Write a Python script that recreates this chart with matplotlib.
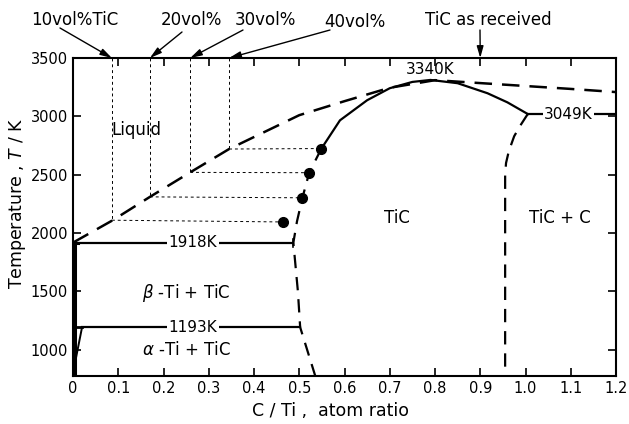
import matplotlib.pyplot as plt

# liquidus (dashed)
liq_x = [0.0, 0.088, 0.17, 0.259, 0.345, 0.5, 0.6, 0.7, 0.8, 0.9, 1.0, 1.1, 1.2]
liq_T = [1918, 2110, 2310, 2520, 2720, 3010, 3130, 3245, 3310, 3285, 3260, 3235, 3208]

# TiC solidus (solid)
sol_x = [0.549, 0.59, 0.65, 0.70, 0.75, 0.79, 0.85, 0.916, 0.96, 1.005]
sol_T = [2724, 2966, 3138, 3241, 3295, 3312, 3284, 3198, 3120, 3020]

# TiC phase boundaries (dashed)
left_x = [0.549, 0.522, 0.507, 0.495, 0.487, 0.497, 0.502, 0.535]
left_T = [2724, 2517, 2302, 2100, 1918, 1500, 1193, 780]
right_x = [1.005, 0.99, 0.975, 0.963, 0.957, 0.955, 0.955]
right_T = [3020, 2930, 2830, 2700, 2600, 2500, 780]

# measured points
dot_x = [0.465, 0.507, 0.522, 0.549]
dot_T = [2095, 2302, 2517, 2724]

# compositions of the samples
vol_x = [0.086, 0.17, 0.259, 0.345]
vol_T = [2110, 2310, 2520, 2720]
vol_labels = ['10vol%TiC', '20vol%', '30vol%', '40vol%']
vol_text_px = [(75, 20), (191, 20), (265, 20), (355, 22)]
vol_arrow_px = [(60, 28), (182, 32), (243, 30), (330, 30)]

plt.rcParams['font.family'] = ['DejaVu Sans']
fig = plt.figure(figsize=(6.29, 4.24), dpi=100)
ax = fig.add_axes([73/629, 1-376/424, (616-73)/629, (376-58)/424])

ax.plot(liq_x, liq_T, color='black', lw=1.8, dashes=(7, 4))
ax.plot(sol_x, sol_T, color='black', lw=1.6)
ax.plot(left_x, left_T, color='black', lw=1.6, dashes=(6, 4))
ax.plot(right_x, right_T, color='black', lw=1.6, dashes=(6, 4))
ax.plot(dot_x, dot_T, 'o', color='black', ms=7)

# sample lines
for vx, vt, dx, dt in zip(vol_x, vol_T, dot_x, dot_T):
    ax.plot([vx, vx], [3500, vt], color='black', lw=0.7, dashes=(3, 3))
    ax.plot([vx, dx], [vt, dt], color='black', lw=0.7, dashes=(3, 3))

# Ti side
ax.plot([0.004, 0.004], [780, 1918], color='black', lw=2.2)
ax.plot([0.004, 0.012], [1918, 1918], color='black', lw=2.2)
ax.plot([0.0, 0.02], [800, 1193], color='black', lw=1.4)
ax.plot([0.004, 0.02], [1193, 1193], color='black', lw=2.0)

# invariant lines
ax.plot([0.004, 0.487], [1918, 1918], color='black', lw=1.6)
ax.plot([0.487, 0.487], [1880, 1950], color='black', lw=1.2)
ax.plot([0.02, 0.502], [1193, 1193], color='black', lw=1.6)
ax.plot([1.005, 1.2], [3020, 3020], color='black', lw=1.6)

box = dict(facecolor='white', edgecolor='none', pad=1)
ax.text(0.265, 1918, '1918K', ha='center', va='center', fontsize=11, bbox=box)
ax.text(0.265, 1193, '1193K', ha='center', va='center', fontsize=11, bbox=box)
ax.text(1.095, 3020, '3049K', ha='center', va='center', fontsize=11, bbox=box)
ax.text(0.79, 3400, '3340K', ha='center', va='center', fontsize=11)

ax.text(0.14, 2880, 'Liquid', ha='center', va='center', fontsize=12)
ax.text(0.715, 2130, 'TiC', ha='center', va='center', fontsize=12)
ax.text(1.077, 2130, 'TiC + C', ha='center', va='center', fontsize=12)
ax.text(0.25, 1490, r'$\beta$ -Ti + TiC', ha='center', va='center', fontsize=12)
ax.text(0.25, 1000, r'$\alpha$ -Ti + TiC', ha='center', va='center', fontsize=12)

# arrows above the plot
arrow = dict(arrowstyle='-|>,head_length=0.7,head_width=0.2',
             color='black', lw=1.0, shrinkA=0, shrinkB=0)
for lab, vx, tp, ap in zip(vol_labels, vol_x, vol_text_px, vol_arrow_px):
    fig.text(tp[0]/629, 1-tp[1]/424, lab, ha='center', va='center', fontsize=12)
    ax.annotate('', xy=(vx, 3500), xycoords='data',
                xytext=(ap[0], 424-ap[1]), textcoords='figure pixels',
                annotation_clip=False, arrowprops=arrow)
fig.text(488/629, 1-20/424, 'TiC as received', ha='center', va='center', fontsize=12)
ax.annotate('', xy=(0.9, 3500), xycoords='data',
            xytext=(480, 424-30), textcoords='figure pixels',
            annotation_clip=False, arrowprops=arrow)

ax.set_xlim(0, 1.2)
ax.set_ylim(775, 3500)
xt = [0, 0.1, 0.2, 0.3, 0.4, 0.5, 0.6, 0.7, 0.8, 0.9, 1.0, 1.1, 1.2]
ax.set_xticks(xt)
ax.set_xticklabels(['0', '0.1', '0.2', '0.3', '0.4', '0.5', '0.6', '0.7',
                    '0.8', '0.9', '1.0', '1.1', '1.2'])
ax.set_yticks([1000, 1500, 2000, 2500, 3000, 3500])
ax.tick_params(direction='in', top=True, right=True, labelsize=10.5, length=6, width=1.2)
for s in ax.spines.values():
    s.set_linewidth(1.5)

fig.text(330/629, 1-411/424, 'C / Ti ,  atom ratio', ha='center', va='center', fontsize=12.5)
fig.text(18/629, 1-203/424, r'Temperature , $T$ / K', ha='center', va='center',
         rotation=90, fontsize=12.5)

fig.savefig('out.png', dpi=100)
